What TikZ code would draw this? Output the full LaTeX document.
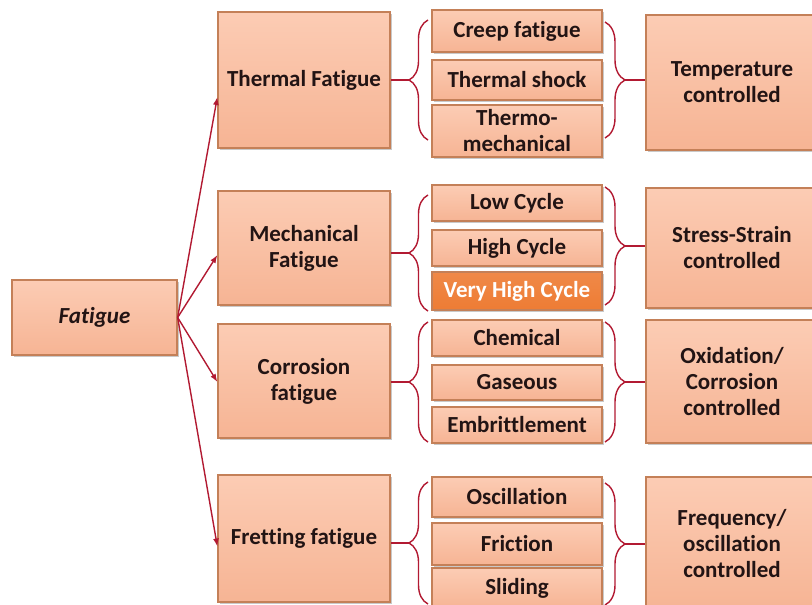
\documentclass[tikz,border=0pt]{standalone}
\usepackage{fontspec}
\setmainfont{Carlito}[Ligatures=NoCommon]
\usepackage{tikz}
\usetikzlibrary{arrows.meta,shadows,decorations.pathreplacing}

\definecolor{boxtop}{RGB}{252,204,180}
\definecolor{boxbot}{RGB}{246,180,148}
\definecolor{boxedge}{RGB}{196,128,88}
\definecolor{hotfill}{RGB}{238,124,52}
\definecolor{linkred}{RGB}{178,26,50}
\definecolor{ink}{RGB}{34,20,20}

\tikzset{
	box/.style={draw=boxedge, line width=1.3pt, top color=boxtop, bottom color=boxbot,
		drop shadow={shadow xshift=1.5pt, shadow yshift=-1.5pt, opacity=0.35, fill=black!60},
		text=ink, align=center, inner sep=0pt,
		font=\bfseries\fontsize{23}{26}\selectfont},
	catbox/.style={box, minimum width=172pt},
	subbox/.style={box, minimum width=170pt},
	ctrlbox/.style={box, minimum width=172pt},
	hotbox/.style={subbox, top color=hotfill!90!white, bottom color=hotfill, text=white},
	link/.style={draw=linkred, line width=1.4pt},
	feed/.style={link, -{Latex[length=8pt,width=6pt]}},
	lbrace/.style={link, decorate, decoration={brace, amplitude=19pt}},
	rbrace/.style={link, decorate, decoration={brace, amplitude=20pt}}
}

\begin{document}
\begin{tikzpicture}[x=1pt, y=-1pt]
		\clip (0,0) rectangle (812,605);
		\fill[white] (0,0) rectangle (812,605);

		% root and the four kinds
		\node[box, minimum width=165pt, minimum height=75pt, font=\bfseries\itshape\fontsize{23}{26}\selectfont] (fatigue) at (94.5,317.5) {Fatigue};

		\node[catbox, minimum height=136pt] (thermal) at (304,80) {Thermal Fatigue};
		\node[catbox, minimum height=114pt] (mech) at (304,248) {Mechanical\\Fatigue};
		\node[catbox, minimum height=114pt] (corr) at (304,381) {Corrosion\\fatigue};
		\node[catbox, minimum height=127pt] (fret) at (304,538.5) {Fretting fatigue};

		% sub types
		\node[subbox, minimum height=42pt] (creep) at (517,31) {Creep fatigue};
		\node[subbox, minimum height=40pt] (shock) at (517,80) {Thermal shock};
		\node[subbox, minimum height=52pt] (thmech) at (517,131) {Thermo-\\mechanical};

		\node[subbox, minimum height=36pt] (low) at (517,203) {Low Cycle};
		\node[subbox, minimum height=36pt] (high) at (517,248) {High Cycle};
		\node[hotbox, minimum height=38pt] (vhigh) at (517,291) {Very High Cycle};

		\node[subbox, minimum height=36pt] (chem) at (517,338) {Chemical};
		\node[subbox, minimum height=35pt] (gas) at (517,382.5) {Gaseous};
		\node[subbox, minimum height=36pt] (embr) at (517,425) {Embrittlement};

		\node[subbox, minimum height=40pt] (osc) at (517,497) {Oscillation};
		\node[subbox, minimum height=42pt] (fric) at (517,544) {Friction};
		\node[subbox, minimum height=40pt] (slid) at (517,588) {Sliding};

		% what controls each kind
		\node[ctrlbox, minimum height=135pt] (temp) at (732,82.5) {Temperature\\controlled};
		\node[ctrlbox, minimum height=120pt] (stress) at (732,248) {Stress-Strain\\controlled};
		\node[ctrlbox, minimum height=123pt] (oxid) at (732,381.5) {Oxidation/\\Corrosion\\controlled};
		\node[ctrlbox, minimum height=133pt] (freq) at (732,543.5) {Frequency/\\oscillation\\controlled};

		% arrows out of the root
		\draw[feed] (fatigue.east) -- ([yshift=-17pt]thermal.west);
		\draw[feed] (fatigue.east) -- ([yshift=-7pt]mech.west);
		\draw[feed] (fatigue.east) -- ([yshift=-1pt]corr.west);
		\draw[feed] (fatigue.east) -- ([yshift=-8pt]fret.west);

		% braces
		\coordinate (tL) at (409,80);
		\coordinate (tR) at (625,80);
		\coordinate (mL) at (409,253);
		\coordinate (mR) at (625,246);
		\coordinate (cL) at (409,382);
		\coordinate (cR) at (625,382);
		\coordinate (fL) at (409,543);
		\coordinate (fR) at (625,544);

		\draw[lbrace] (428,140) -- (428,20);
		\draw[rbrace] (605,22) -- (605,138);
		\draw[lbrace] (428,311) -- (428,195);
		\draw[rbrace] (605,187) -- (605,305);
		\draw[lbrace] (428,442) -- (428,322);
		\draw[rbrace] (605,322) -- (605,442);
		\draw[lbrace] (428,604) -- (428,482);
		\draw[rbrace] (605,483) -- (605,605);

		\draw[link] (thermal.east |- tL) -- (tL);
		\draw[link] (mech.east |- mL) -- (mL);
		\draw[link] (corr.east |- cL) -- (cL);
		\draw[link] (fret.east |- fL) -- (fL);

		\draw[link] (tR) -- (temp.west |- tR);
		\draw[link] (mR) -- (stress.west |- mR);
		\draw[link] (cR) -- (oxid.west |- cR);
		\draw[link] (fR) -- (freq.west |- fR);
\end{tikzpicture}
\end{document}
